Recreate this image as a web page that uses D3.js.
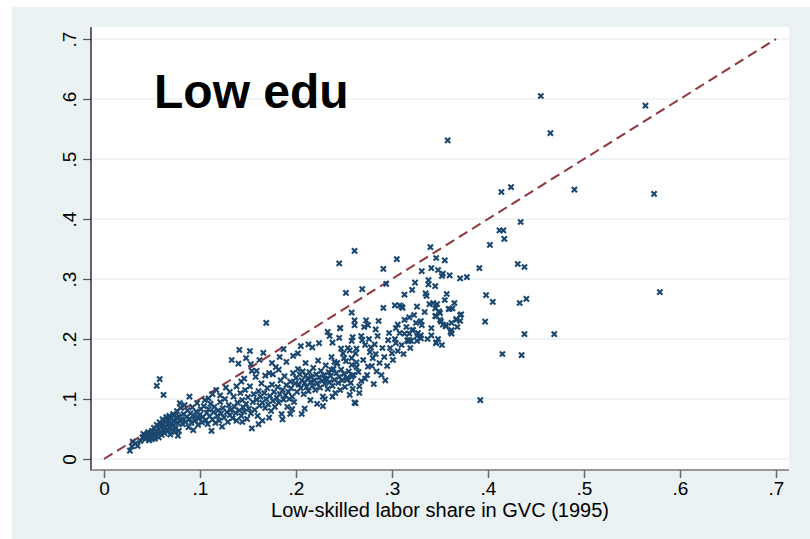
<!DOCTYPE html>
<html><head><meta charset="utf-8">
<script src="https://cdn.jsdelivr.net/npm/d3@7"></script>
<style>body{margin:0;background:#fff;}svg{display:block;font-family:"Liberation Sans",Arial,sans-serif;}</style>
</head><body>
<script>
const title = "Low edu";
const xTitle = "Low-skilled labor share in GVC (1995)";
const tickValues = [0, 0.1, 0.2, 0.3, 0.4, 0.5, 0.6, 0.7];
const tickLabels = ["0", ".1", ".2", ".3", ".4", ".5", ".6", ".7"];
const diagonal = [0, 0.7];
// [low-skilled share 1995, y value]
const points = [
[0.027,0.014],[0.029,0.021],[0.030,0.029],[0.035,0.022],[0.033,0.026],[0.038,0.030],[0.040,0.036],[0.041,0.042],[0.043,0.033],[0.044,0.040],[0.045,0.037],[0.046,0.045],[0.047,0.031],[0.048,0.035],[0.048,0.042],[0.049,0.038],[0.050,0.033],[0.050,0.047],
[0.051,0.036],[0.052,0.041],[0.052,0.052],[0.053,0.034],[0.054,0.046],[0.055,0.039],[0.055,0.057],[0.056,0.043],[0.057,0.050],[0.057,0.036],[0.058,0.061],[0.059,0.045],[0.060,0.054],[0.060,0.040],[0.061,0.066],[0.062,0.048],[0.062,0.058],[0.063,0.043],[0.064,0.063],[0.064,0.052],[0.065,0.070],[0.066,0.046],[0.066,0.058],[0.067,0.064],[0.068,0.053],[0.068,0.072],[0.069,0.041],[0.070,0.060],[0.070,0.067],[0.071,0.049],[0.072,0.075],[0.072,0.056],[0.073,0.063],[0.074,0.045],[0.075,0.069],[0.075,0.052],[0.076,0.080],[0.077,0.060],[0.078,0.071],[0.078,0.047],[0.079,0.093],[0.079,0.064],[0.077,0.039],[0.055,0.122],[0.058,0.133],[0.062,0.107],
[0.080,0.085],[0.081,0.066],[0.082,0.058],[0.083,0.075],[0.084,0.090],[0.085,0.062],[0.086,0.070],[0.087,0.081],[0.088,0.053],[0.089,0.104],[0.089,0.067],[0.090,0.076],[0.091,0.060],[0.092,0.086],[0.093,0.048],[0.094,0.071],[0.095,0.064],[0.096,0.079],[0.097,0.093],[0.098,0.057],[0.099,0.068],[0.100,0.074],[0.101,0.083],[0.102,0.061],[0.103,0.070],[0.104,0.088],[0.105,0.098],[0.106,0.065],[0.107,0.077],[0.108,0.058],[0.109,0.083],[0.110,0.071],[0.111,0.092],[0.112,0.047],[0.113,0.066],[0.114,0.078],[0.115,0.087],[0.116,0.060],[0.117,0.115],[0.118,0.072],[0.119,0.081],[0.120,0.064],[0.121,0.095],[0.122,0.076],[0.123,0.054],[0.124,0.085],[0.125,0.069],[0.126,0.100],[0.127,0.119],[0.128,0.078],[0.129,0.062],
[0.109,0.101],[0.113,0.108],[0.121,0.106],[0.131,0.112],[0.138,0.121],[0.146,0.134],[0.153,0.158],[0.159,0.147],[0.168,0.139],[0.176,0.141],[0.182,0.149],[0.144,0.062],[0.161,0.058],[0.172,0.069],[0.186,0.066],[0.194,0.075],
[0.130,0.090],[0.131,0.073],[0.132,0.082],[0.133,0.165],[0.134,0.068],[0.135,0.104],[0.136,0.087],[0.137,0.077],[0.138,0.064],[0.139,0.094],[0.140,0.159],[0.141,0.182],[0.141,0.081],[0.142,0.110],[0.143,0.129],[0.143,0.072],[0.144,0.098],[0.145,0.086],[0.146,0.079],[0.147,0.115],[0.148,0.168],[0.148,0.092],[0.149,0.067],[0.150,0.103],[0.151,0.084],[0.152,0.180],[0.152,0.121],[0.153,0.076],[0.154,0.147],[0.154,0.051],[0.155,0.095],[0.156,0.108],[0.157,0.082],[0.158,0.137],[0.159,0.099],[0.160,0.072],[0.161,0.113],[0.162,0.165],[0.162,0.089],[0.163,0.104],[0.164,0.126],[0.165,0.064],[0.165,0.094],[0.166,0.177],[0.167,0.110],[0.168,0.085],[0.169,0.227],[0.169,0.100],[0.170,0.118],[0.171,0.091],[0.172,0.143],[0.173,0.105],[0.174,0.080],[0.175,0.124],[0.175,0.160],[0.176,0.097],[0.177,0.112],[0.178,0.087],[0.179,0.153],[0.180,0.102],[0.181,0.120],[0.182,0.094],[0.183,0.108],[0.183,0.170],[0.184,0.131],[0.185,0.075],[0.186,0.115],[0.187,0.099],[0.187,0.183],[0.188,0.138],[0.189,0.106],[0.190,0.123],[0.190,0.162],[0.191,0.087],[0.192,0.112],[0.193,0.100],[0.194,0.129],[0.195,0.118],[0.196,0.104],[0.196,0.083],[0.197,0.143],[0.197,0.172],[0.198,0.095],[0.199,0.126],
[0.200,0.135],[0.201,0.112],[0.202,0.176],[0.202,0.150],[0.203,0.124],[0.204,0.141],[0.205,0.188],[0.205,0.118],[0.206,0.131],[0.206,0.075],[0.207,0.146],[0.208,0.108],[0.209,0.127],[0.209,0.084],[0.210,0.139],[0.210,0.160],[0.211,0.120],[0.212,0.134],[0.213,0.191],[0.213,0.113],[0.214,0.145],[0.215,0.128],[0.215,0.098],[0.216,0.137],[0.217,0.186],[0.217,0.122],[0.218,0.152],[0.219,0.131],[0.220,0.115],[0.221,0.141],[0.222,0.126],[0.222,0.092],[0.223,0.164],[0.224,0.193],[0.224,0.136],[0.225,0.119],[0.226,0.147],[0.227,0.130],[0.228,0.104],[0.228,0.088],[0.229,0.140],[0.230,0.125],[0.230,0.100],[0.230,0.134],[0.231,0.156],[0.232,0.133],[0.233,0.212],[0.233,0.117],[0.234,0.145],[0.235,0.205],[0.235,0.128],[0.236,0.138],[0.237,0.170],[0.237,0.148],[0.238,0.194],[0.238,0.122],[0.238,0.104],[0.239,0.150],[0.240,0.132],[0.240,0.162],[0.241,0.110],[0.242,0.143],[0.242,0.159],[0.243,0.160],[0.244,0.127],[0.245,0.202],[0.245,0.137],[0.246,0.218],[0.246,0.115],[0.247,0.149],[0.247,0.184],[0.248,0.131],[0.249,0.176],[0.250,0.142],[0.250,0.168],[0.251,0.120],[0.252,0.163],[0.253,0.135],[0.253,0.132],[0.254,0.185],[0.255,0.146],[0.256,0.107],[0.256,0.181],[0.257,0.127],[0.258,0.197],[0.258,0.157],[0.258,0.168],[0.258,0.137],[0.259,0.117],[0.259,0.140],[0.259,0.203],[0.260,0.140],
[0.261,0.094],[0.262,0.093],[0.262,0.176],[0.263,0.184],[0.263,0.161],[0.263,0.153],[0.266,0.110],[0.266,0.121],[0.268,0.205],[0.269,0.198],[0.272,0.134],[0.275,0.154],[0.277,0.178],[0.278,0.186],[0.280,0.168],[0.282,0.191],[0.284,0.146],[0.293,0.131],[0.296,0.198],[0.300,0.176],[0.304,0.193],
[0.265,0.145],[0.268,0.130],[0.270,0.165],[0.272,0.190],[0.274,0.140],[0.276,0.200],[0.279,0.155],[0.281,0.125],[0.283,0.175],[0.285,0.205],[0.287,0.160],[0.289,0.140],[0.290,0.185],[0.292,0.170],[0.295,0.155],[0.297,0.210],[0.298,0.185],[0.301,0.165],[0.303,0.200],[0.306,0.180],[0.308,0.210],[0.310,0.190],[0.312,0.175],[0.315,0.220],[0.319,0.185],[0.323,0.240],[0.327,0.210],[0.330,0.230],[0.334,0.245],[0.337,0.200],[0.343,0.260],[0.348,0.200],[0.352,0.190],[0.355,0.265],[0.365,0.260],[0.368,0.220],
[0.261,0.347],[0.245,0.326],[0.305,0.333],[0.291,0.317],[0.252,0.277],[0.269,0.283],[0.294,0.292],[0.258,0.244],[0.291,0.252],[0.303,0.256],[0.308,0.256],[0.311,0.252],[0.261,0.231],[0.273,0.231],[0.261,0.223],[0.286,0.230],[0.246,0.218],[0.271,0.220],[0.275,0.223],[0.283,0.216],[0.304,0.218],[0.306,0.224],
[0.313,0.232],[0.318,0.209],[0.317,0.196],[0.318,0.198],[0.326,0.205],[0.330,0.201],[0.346,0.194],[0.341,0.218],[0.362,0.215],[0.346,0.238],[0.351,0.229],[0.356,0.223],[0.371,0.240],[0.367,0.232],[0.349,0.246],[0.331,0.223],[0.321,0.215],[0.360,0.250],[0.363,0.251],
[0.355,0.331],[0.340,0.353],[0.346,0.335],[0.331,0.313],[0.341,0.318],[0.348,0.315],[0.353,0.309],[0.352,0.305],[0.360,0.306],[0.371,0.301],[0.378,0.303],[0.324,0.294],[0.338,0.298],[0.338,0.291],[0.321,0.282],[0.313,0.274],[0.335,0.276],[0.336,0.272],[0.345,0.288],[0.357,0.275],[0.391,0.318],
[0.310,0.254],[0.326,0.254],[0.339,0.258],[0.345,0.251],[0.347,0.258],[0.350,0.243],[0.359,0.250],[0.372,0.241],[0.318,0.236],[0.345,0.238],[0.350,0.232],[0.353,0.224],[0.356,0.221],[0.362,0.227],[0.367,0.233],[0.371,0.230],[0.325,0.227],[0.322,0.215],[0.313,0.209],[0.330,0.206],[0.341,0.206],[0.361,0.212],[0.362,0.209],[0.316,0.198],[0.320,0.197],[0.326,0.197],[0.346,0.193],
[0.398,0.273],[0.405,0.262],[0.397,0.229],[0.433,0.260],[0.440,0.267],[0.438,0.208],[0.469,0.208],[0.415,0.175],[0.435,0.173],[0.392,0.098],[0.431,0.325],[0.438,0.320],[0.402,0.357],[0.417,0.367],[0.412,0.381],[0.416,0.381],[0.434,0.395],
[0.414,0.445],[0.424,0.453],[0.490,0.449],[0.573,0.442],[0.358,0.531],[0.465,0.543],[0.455,0.605],[0.564,0.589],[0.579,0.278]
];

const W = 810, H = 539;
const svg = d3.select("body").append("svg").attr("width", W).attr("height", H);
const plot = {left: 91, right: 789, top: 27, bottom: 470};
const x = d3.scaleLinear().domain([0, 0.7]).range([104, 776]);
const y = d3.scaleLinear().domain([0, 0.7]).range([459, 39]);

svg.append("rect").attr("x", 12).attr("y", 7).attr("width", W - 12).attr("height", H - 7).attr("fill", "#eaf2f3");
svg.append("rect").attr("x", plot.left).attr("y", plot.top).attr("width", plot.right - plot.left).attr("height", plot.bottom - plot.top).attr("fill", "#fff");

// gridlines
svg.append("g").selectAll("line").data(tickValues).join("line")
  .attr("x1", plot.left).attr("x2", plot.right)
  .attr("y1", d => y(d)).attr("y2", d => y(d))
  .attr("stroke", "#eaf2f3").attr("stroke-width", 1.6);

// diagonal
svg.append("line")
  .attr("x1", x(diagonal[0])).attr("y1", y(diagonal[0]))
  .attr("x2", x(diagonal[1])).attr("y2", y(diagonal[1]))
  .attr("stroke", "#90353b").attr("stroke-width", 2).attr("stroke-dasharray", "10,5.5");

// markers
const s = 2.6;
svg.append("g").selectAll("path").data(points).join("path")
  .attr("d", d => {
    const cx = x(d[0]), cy = y(d[1]);
    return `M${cx - s},${cy - s}L${cx + s},${cy + s}M${cx - s},${cy + s}L${cx + s},${cy - s}`;
  })
  .attr("stroke", "#1a476f").attr("stroke-width", 2.1).attr("fill", "none");

// y axis
const yAxis = svg.append("g").attr("transform", `translate(${plot.left},0)`)
  .call(d3.axisLeft(y).tickValues(tickValues).tickSize(8).tickFormat((d, i) => tickLabels[i]));
yAxis.select(".domain").remove();
yAxis.selectAll(".tick line").attr("stroke", "#555").attr("stroke-width", 1.2);
yAxis.selectAll(".tick text")
  .attr("x", 0).attr("y", -15).attr("dy", null)
  .attr("transform", "rotate(-90)")
  .attr("text-anchor", "middle")
  .attr("font-size", 19).attr("fill", "#000").attr("font-family", "Liberation Sans, Arial, sans-serif");
svg.append("line").attr("x1", plot.left).attr("x2", plot.left).attr("y1", plot.top).attr("y2", plot.bottom + 0.5)
  .attr("stroke", "#000").attr("stroke-width", 1.2);

// x axis
const xAxis = svg.append("g").attr("transform", `translate(0,${plot.bottom})`)
  .call(d3.axisBottom(x).tickValues(tickValues).tickSize(8).tickFormat((d, i) => tickLabels[i]));
xAxis.select(".domain").remove();
xAxis.selectAll(".tick line").attr("stroke", "#666").attr("stroke-width", 1.5);
xAxis.selectAll(".tick text").attr("y", 12).attr("dy", "0.71em")
  .attr("font-size", 19).attr("fill", "#000").attr("font-family", "Liberation Sans, Arial, sans-serif");
svg.append("line").attr("x1", plot.left).attr("x2", plot.right).attr("y1", plot.bottom).attr("y2", plot.bottom)
  .attr("stroke", "#777").attr("stroke-width", 1.6);

svg.append("text").attr("x", (plot.left + plot.right) / 2).attr("y", 517)
  .attr("text-anchor", "middle").attr("font-size", 20).text(xTitle);

svg.append("text").attr("x", 154).attr("y", 108).attr("font-size", 48).attr("font-weight", "bold").text(title);
</script>
</body></html>
